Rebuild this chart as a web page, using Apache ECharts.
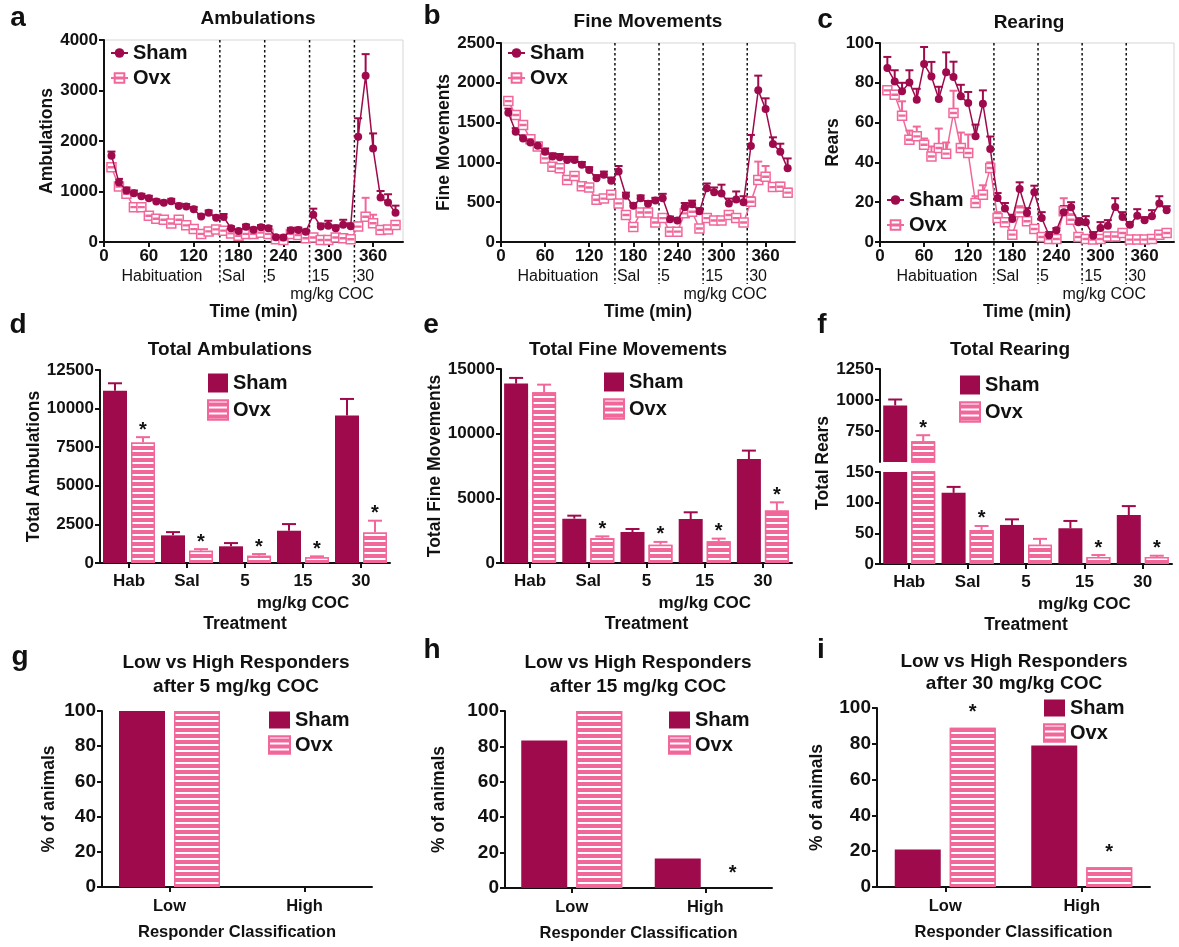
<!DOCTYPE html>
<html><head><meta charset="utf-8">
<script src="https://cdn.jsdelivr.net/npm/echarts@6/dist/echarts.min.js"></script>
<style>html,body{margin:0;padding:0;background:#fff}#c{width:1179px;height:947px}</style>
</head><body><div id="c"></div>
<script>
// ---------------- DATA ----------------
const time = [10,20,30,40,50,60,70,80,90,100,110,120,130,140,150,160,170,180,190,200,210,220,230,240,250,260,270,280,290,300,310,320,330,340,350,360,370,380,390];
const timeTicks = [0,60,120,180,240,300,360];
const doseBounds = [155,215,275,335];
const segLabels = ['Habituation','Sal','5','15','30'];

const ambSham    = [1710,1180,1020,965,905,865,800,775,805,715,705,650,505,580,480, 495,270,220,300,245,290, 270,95,90,235,240,205, 540,305,320,270,340,310, 2085,3290,1850,880,780,580];
const ambShamErr = [80,70,60,55,50,50,45,45,50,45,45,45,40,45,45, 60,40,35,45,40,45, 45,25,25,45,45,40, 120,60,100,60,100,60, 365,430,300,130,165,140];
const ambOvx     = [1480,1100,955,690,690,520,460,440,365,440,330,255,160,210,250, 225,170,125,160,160,185, 160,55,40,160,140,75, 90,40,40,90,75,55, 305,500,370,240,250,335];
const ambOvxErr  = [60,50,50,45,45,40,35,35,35,40,35,30,25,30,30, 30,25,25,25,25,25, 25,15,15,25,25,20, 20,15,15,20,20,15, 80,375,170,60,60,60];

const fineSham    = [1625,1385,1300,1250,1210,1135,1075,1065,1030,1030,970,905,800,845,770, 885,580,455,550,480,520, 550,285,270,435,475,385, 675,625,610,485,535,500, 1205,1905,1670,1230,1135,925];
const fineShamErr = [50,45,40,40,40,40,40,40,40,40,35,35,40,40,40, 70,40,35,35,35,35, 55,35,30,55,45,40, 60,60,110,60,100,75, 140,185,135,85,100,125];
const fineOvx     = [1770,1595,1470,1290,1200,1050,945,925,780,830,700,685,530,545,595, 485,340,190,370,370,245, 300,130,130,360,380,170, 300,270,270,340,300,245, 505,780,820,690,695,620];
const fineOvxErr  = [40,40,40,35,35,35,30,30,35,35,30,30,30,30,30, 35,30,30,30,30,30, 30,20,20,35,35,30, 30,25,25,40,30,30, 60,230,135,50,50,50];

const rearSham    = [87.4,80.7,75.7,80.2,71.5,89.4,83.2,71.9,85.3,82.9,73.2,69.8,53.1,69.5,46.7, 22.1,16.8,11.6,26.6,14.6,25.0, 12.1,3.4,5.9,14.9,17.4,9.9, 9.9,3.2,7.0,8.2,17.6,12.6, 8.7,13.2,10.9,12.9,19.3,15.9];
const rearShamErr = [5.6,5.6,4.3,6.1,5.5,8.6,7.3,6.1,10,7.7,5.8,5.6,5.9,6.7,6.3, 2.5,2.8,2.1,3.4,2.4,3.3, 2.9,1.6,1.1,3.1,2.6,2.1, 3.1,1.8,3,2.8,4.4,2.4, 1.3,3.3,1.6,3.1,3.7,2.1];
const rearOvx     = [76.2,74.0,63.5,51.4,53.1,48.9,43.0,47.2,44.4,64.8,47.2,44.7,19.6,23.8,37.2, 12.1,9.9,3.7,14.9,10.4,6.5, 2.5,1.5,1.5,15.4,11.2,2.5, 1.5,1.2,1.5,2.8,2.8,4.5, 1.2,1.2,1.2,1.5,3.7,4.5];
const rearOvxErr  = [1.8,2,7.2,4.6,4.9,3.1,5,9.8,5.6,11.2,7.8,9.3,3.4,4.7,2.8, 2.9,2.1,0.3,3.1,1.6,0.5, 0.5,0.5,0.5,6.6,2.8,0.5, 0.5,0.3,0,1.2,1.2,1.5, 0.3,0.3,0.3,0.5,0.3,0.5];

const totCats = ['Hab','Sal','5','15','30'];
const totAmbSham = [11150,1790,1080,2090,9550];
const totAmbShamErr = [490,210,210,430,1075];
const totAmbOvx = [7800,800,470,366,1980];
const totAmbOvxErr = [350,100,110,64,760];
const totAmbSig = [1,1,1,1,1];

const totFineSham = [13870,3430,2400,3400,8040];
const totFineShamErr = [440,230,230,520,650];
const totFineOvx = [13200,1930,1420,1675,4050];
const totFineOvxErr = [590,130,210,210,640];
const totFineSig = [0,1,1,1,1];

const totRearSham = [956,116,63.7,58.3,79.9];
const totRearShamErr = [48,9.7,9.1,11.9,14.5];
const totRearOvx = [668,55.6,31.3,11.3,11.3];
const totRearOvxErr = [48,6.4,9.7,3.3,2.2];
const totRearSig = [1,1,0,1,1];

const respCats = ['Low','High'];
const resp5Sham = [100,0],  resp5Ovx = [100,0],  resp5Sig = [0,0];
const resp15Sham = [83.3,16.7], resp15Ovx = [100,0], resp15Sig = [0,1];
const resp30Sham = [21,79], resp30Ovx = [89,11], resp30Sig = [1,1];

// ---------------- STYLE ----------------
const FONT = '"Liberation Sans", Arial, Helvetica, sans-serif';
const SHAM = '#9E0A4C', OVX = '#F2679A', INK = '#111111';
const OVX_SYM = 'path://M0,0H10V10H0Z M2,4.5H8V5.5H2Z';
const STRIPES = {symbol:'rect', symbolSize:1, color:'#ffffff', dashArrayX:[1,0], dashArrayY:[2,4], rotation:0};
const plainNum = v => String(v);

const grids=[], xAxes=[], yAxes=[], series=[], legends=[], graphics=[];

function merge(a,b){for(const k in b){if(b[k]&&typeof b[k]==='object'&&!Array.isArray(b[k])&&a[k]&&typeof a[k]==='object'&&!Array.isArray(a[k]))merge(a[k],b[k]);else a[k]=b[k];}return a;}
function axisBase(fs){return {axisLine:{show:true,onZero:false,lineStyle:{color:INK,width:2}},axisTick:{show:true,length:5,lineStyle:{color:INK,width:2}},axisLabel:{color:INK,fontFamily:FONT,fontWeight:'bold',fontSize:fs,margin:6},splitLine:{show:false},nameTextStyle:{color:INK,fontFamily:FONT,fontWeight:'bold',fontSize:17.5}};}
function valAxis(fs){return merge(axisBase(fs),{type:'value',axisLabel:{formatter:plainNum}});}
function txt(text,x,y,size,weight,align,rot){return {type:'text',x:x,y:y,rotation:rot||0,silent:true,style:{text:text,fill:INK,font:(weight||'bold')+' '+size+'px '+FONT,align:align||'center',textAlign:align||'center',verticalAlign:'middle',textVerticalAlign:'middle'}};}

function errRender(capW, off, starGap){
  return function(params, api){
    const c=api.value(0), v=api.value(1), e=api.value(2), s=api.value(3);
    const p0=api.coord([c,v]), p1=api.coord([c,v+(e>0?e:0)]);
    const x=p0[0]+off;
    const st={stroke:api.visual('color'),lineWidth:2};
    const ch=[];
    if(e>0){
      ch.push({type:'line',shape:{x1:x,y1:p0[1],x2:x,y2:p1[1]},style:st});
      ch.push({type:'line',shape:{x1:x-capW/2,y1:p1[1],x2:x+capW/2,y2:p1[1]},style:st});
    }
    if(s===1){ch.push({type:'text',x:x,y:p1[1]-starGap,style:{text:'*',fill:INK,font:'bold 20px '+FONT,align:'center',textAlign:'center',verticalAlign:'middle',textVerticalAlign:'middle'}});}
    return {type:'group',children:ch};
  };
}
function segRender(params, api){
  const cs=params.coordSys, ch=[];
  const yBot=cs.y+cs.height;
  doseBounds.forEach((b,i)=>{
    const x=api.coord([b,0])[0];
    ch.push({type:'line',shape:{x1:x,y1:cs.y,x2:x,y2:yBot+42},style:{stroke:INK,lineWidth:1.5,lineDash:[2.5,2.5]}});
    ch.push({type:'text',x:x+2,y:yBot+35,style:{text:segLabels[i+1],fill:INK,font:'16px '+FONT,align:'left',textAlign:'left',verticalAlign:'middle',textVerticalAlign:'middle'}});
  });
  const hx=api.coord([doseBounds[0]/2,0])[0];
  ch.push({type:'text',x:hx,y:yBot+35,style:{text:segLabels[0],fill:INK,font:'16px '+FONT,align:'center',textAlign:'center',verticalAlign:'middle',textVerticalAlign:'middle'}});
  const mx=api.coord([(doseBounds[2]+doseBounds[3])/2,0])[0];
  ch.push({type:'text',x:mx,y:yBot+53,style:{text:'mg/kg COC',fill:INK,font:'16px '+FONT,align:'center',textAlign:'center',verticalAlign:'middle',textVerticalAlign:'middle'}});
  return {type:'group',children:ch};
}
function legendOpt(left,top,names,iw,ih,gap,icon){const o={left:left,top:top,orient:'vertical',padding:0,itemGap:gap,itemWidth:iw,itemHeight:ih,data:names,selectedMode:false,formatter:n=>n.split('_')[0],textStyle:{fontFamily:FONT,fontWeight:'bold',fontSize:20,color:INK,lineHeight:22}}; if(icon) o.icon=icon; return o;}

// ---------------- TOP PANELS ----------------
function topPanel(k, rect, yMax, yInt, yName, yNameGap, s, se, o, oe, leg){
  const gi=grids.length; grids.push(Object.assign({show:true,borderColor:'#d6d6d6',borderWidth:1},rect));
  const xi=xAxes.length;
  xAxes.push(merge(valAxis(17),{gridIndex:gi,min:0,max:400,name:'Time (min)',nameLocation:'middle',nameGap:61,axisTick:{customValues:timeTicks},axisLabel:{customValues:timeTicks}}));
  const yi=yAxes.length;
  yAxes.push(merge(valAxis(17),{gridIndex:gi,min:0,max:yMax,interval:yInt,name:yName,nameLocation:'middle',nameGap:yNameGap}));
  const ax={xAxisIndex:xi,yAxisIndex:yi};
  series.push(Object.assign({type:'custom',silent:true,z:1,data:[[0,0]],renderItem:segRender},ax));
  series.push(Object.assign({type:'custom',silent:true,z:2,itemStyle:{color:OVX},encode:{x:0,y:1},data:time.map((t,i)=>[t,o[i],oe[i],0]),renderItem:errRender(8,0,0)},ax));
  series.push(Object.assign({type:'custom',silent:true,z:2,itemStyle:{color:SHAM},encode:{x:0,y:1},data:time.map((t,i)=>[t,s[i],se[i],0]),renderItem:errRender(8,0,0)},ax));
  series.push(Object.assign({type:'line',name:'Ovx_'+k,z:3,data:time.map((t,i)=>[t,o[i]]),symbol:OVX_SYM,symbolSize:9,symbolKeepAspect:true,color:OVX,lineStyle:{color:OVX,width:1.5},itemStyle:{color:'#ffffff',borderColor:OVX,borderWidth:1.5}},ax));
  series.push(Object.assign({type:'line',name:'Sham_'+k,z:4,data:time.map((t,i)=>[t,s[i]]),symbol:'circle',symbolSize:8,color:SHAM,lineStyle:{color:SHAM,width:1.5},itemStyle:{color:SHAM}},ax));
  legends.push(legendOpt(leg[0],leg[1],['Sham_'+k,'Ovx_'+k],17,12,3));
}
topPanel('a',{left:104,top:40,width:299,height:202},4000,1000,'Ambulations',41,ambSham,ambShamErr,ambOvx,ambOvxErr,[110,42]);
topPanel('b',{left:501,top:43,width:294,height:199},2500,500,'Fine Movements',44,fineSham,fineShamErr,fineOvx,fineOvxErr,[507,42]);
topPanel('c',{left:880,top:43,width:294,height:199},100,20,'Rears',36,rearSham,rearShamErr,rearOvx,rearOvxErr,[886,189]);

// ---------------- BAR PANELS ----------------
const ovxBarStyle = {color:OVX,borderColor:OVX,borderWidth:1.5,decal:STRIPES};
const barItems = vals => vals.map(v => (v===0 ? {value:0,itemStyle:{borderWidth:0}} : v));
function barSeries(k, ax, s, o, bw, gapPct){
  series.push(Object.assign({type:'bar',name:'Sham_'+k,data:s,barWidth:bw,barGap:gapPct,itemStyle:{color:SHAM},z:2},ax));
  series.push(Object.assign({type:'bar',name:'Ovx_'+k,data:barItems(o),barWidth:bw,itemStyle:ovxBarStyle,z:2},ax));
}
function errSeries(ax, vals, errs, sig, off, cap, starGap, color, keep){
  const d=[]; vals.forEach((v,i)=>{ if(!keep || keep(v)) d.push([i,v,errs?errs[i]:0,sig?sig[i]:0]); });
  series.push(Object.assign({type:'custom',silent:true,z:3,itemStyle:{color:color},encode:{x:0,y:1},data:d,renderItem:errRender(cap,off,starGap)},ax));
}
const catLabelFmt = v => v==='15' ? '15\nmg/kg COC' : v;
function catAxis(fs, cats, gi, name, gap){return merge(axisBase(fs),{type:'category',gridIndex:gi,data:cats,name:name,nameLocation:'middle',nameGap:gap,axisTick:{alignWithLabel:true},axisLabel:{interval:0,lineHeight:22,margin:7}});}

function totPanel(k, rect, yMax, yInt, yName, yNameGap, s, se, o, oe, sig, leg){
  const gi=grids.length; grids.push(rect);
  const xi=xAxes.length;
  xAxes.push(merge(catAxis(17,totCats,gi,'Treatment',46),{axisLabel:{formatter:catLabelFmt}}));
  const yi=yAxes.length;
  yAxes.push(merge(valAxis(17),{gridIndex:gi,min:0,max:yMax,interval:yInt,name:yName,nameLocation:'middle',nameGap:yNameGap}));
  const ax={xAxisIndex:xi,yAxisIndex:yi};
  const bw=24, gp=4, off=(bw+gp)/2;
  barSeries(k,ax,s,o,bw,(gp/bw*100)+'%');
  errSeries(ax,s,se,null,-off,14,0,SHAM);
  errSeries(ax,o,oe,sig,off,14,7,OVX);
  legends.push(legendOpt(leg[0],leg[1],['Sham_'+k,'Ovx_'+k],20,19,5,'rect'));
}
totPanel('d',{left:100,top:370,width:290,height:193},12500,2500,'Total Ambulations',53,totAmbSham,totAmbShamErr,totAmbOvx,totAmbOvxErr,totAmbSig,[207,372]);
totPanel('e',{left:501,top:369,width:291,height:194},15000,5000,'Total Fine Movements',51,totFineSham,totFineShamErr,totFineOvx,totFineOvxErr,totFineSig,[603,371]);

// panel f : broken axis (two grids)
(function(){
  const BREAK_LO=150, BREAK_HI=500;
  const bw=24, gp=4, off=(bw+gp)/2, gapPct=(gp/bw*100)+'%';
  // upper segment
  let gi=grids.length; grids.push({left:880,top:369,width:292,height:93});
  let xi=xAxes.length; xAxes.push({type:'category',gridIndex:gi,data:totCats,show:false});
  let yi=yAxes.length; yAxes.push(merge(valAxis(17),{gridIndex:gi,min:BREAK_HI,max:1250,interval:250,axisLabel:{customValues:[750,1000,1250]},axisTick:{customValues:[750,1000,1250]}}));
  let ax={xAxisIndex:xi,yAxisIndex:yi};
  series.push(Object.assign({type:'bar',name:'Sham_f',data:totRearSham.map(v=>v>=BREAK_HI?v:'-'),barWidth:bw,barGap:gapPct,itemStyle:{color:SHAM}},ax));
  series.push(Object.assign({type:'bar',name:'Ovx_f',data:totRearOvx.map(v=>v>=BREAK_HI?v:'-'),barWidth:bw,itemStyle:ovxBarStyle},ax));
  errSeries(ax,totRearSham,totRearShamErr,null,-off,14,0,SHAM,v=>v>=BREAK_HI);
  errSeries(ax,totRearOvx,totRearOvxErr,totRearSig,off,14,7,OVX,v=>v>=BREAK_HI);
  // lower segment
  gi=grids.length; grids.push({left:880,top:472,width:292,height:92});
  xi=xAxes.length; xAxes.push(merge(catAxis(17,totCats,gi,'Treatment',46),{axisLabel:{formatter:catLabelFmt}}));
  yi=yAxes.length; yAxes.push(merge(valAxis(17),{gridIndex:gi,min:0,max:BREAK_LO,interval:50}));
  ax={xAxisIndex:xi,yAxisIndex:yi};
  series.push(Object.assign({type:'bar',name:'Sham_f2',data:totRearSham,barWidth:bw,barGap:gapPct,itemStyle:{color:SHAM}},ax));
  series.push(Object.assign({type:'bar',name:'Ovx_f2',data:totRearOvx,barWidth:bw,itemStyle:ovxBarStyle},ax));
  errSeries(ax,totRearSham,totRearShamErr,null,-off,14,0,SHAM,v=>v<=BREAK_LO);
  errSeries(ax,totRearOvx,totRearOvxErr,totRearSig,off,14,7,OVX,v=>v<=BREAK_LO);
  legends.push(legendOpt(959,374,['Sham_f','Ovx_f'],20,19,5,'rect'));
  graphics.push(txt('Total Rears',823,463,17.5,'bold','center',Math.PI/2));
})();

function respPanel(k, rect, s, o, sig, yNameGap, leg){
  const gi=grids.length; grids.push(rect);
  const xi=xAxes.length;
  xAxes.push(merge(catAxis(16.5,respCats,gi,'Responder Classification',37),{axisLabel:{margin:8},nameTextStyle:{fontSize:16.5}}));
  const yi=yAxes.length;
  yAxes.push(merge(valAxis(19),{gridIndex:gi,min:0,max:100,interval:20,name:'% of animals',nameLocation:'middle',nameGap:yNameGap}));
  const ax={xAxisIndex:xi,yAxisIndex:yi};
  const bw=46, gp=9, off=(bw+gp)/2;
  barSeries(k,ax,s,o,bw,(gp/bw*100)+'%');
  errSeries(ax,o,null,sig,off,0,15,OVX);
  legends.push(legendOpt(leg[0],leg[1],['Sham_'+k,'Ovx_'+k],21,17,3,'rect'));
}
respPanel('g',{left:102,top:711,width:270,height:176},resp5Sham,resp5Ovx,resp5Sig,44,[268,709]);
respPanel('h',{left:505,top:711,width:267,height:177},resp15Sham,resp15Ovx,resp15Sig,57,[668,709]);
respPanel('i',{left:877,top:708,width:273,height:179},resp30Sham,resp30Ovx,resp30Sig,51,[1043,697]);

// ---------------- TEXT: letters & titles ----------------
[['a',18,18],['b',432,16],['c',825,20],['d',18,325],['e',431,325],['f',822,325],['g',20,657],['h',432,650],['i',821,650]]
  .forEach(l=>graphics.push(txt(l[0],l[1],l[2],28,'bold','center')));
[['Ambulations',258,19],['Fine Movements',648,22],['Rearing',1029,23],
 ['Total Ambulations',230,350],['Total Fine Movements',628,350],['Total Rearing',1010,350],
 ['Low vs High Responders',236,663],['after 5 mg/kg COC',236,687],
 ['Low vs High Responders',638,663],['after 15 mg/kg COC',638,687],
 ['Low vs High Responders',1014,662],['after 30 mg/kg COC',1014,684]]
  .forEach(t=>graphics.push(txt(t[0],t[1],t[2],19,'bold','center')));

const chart = echarts.init(document.getElementById('c'), null, {renderer:'canvas'});
chart.setOption({
  animation:false,
  backgroundColor:'#ffffff',
  textStyle:{fontFamily:FONT},
  grid:grids, xAxis:xAxes, yAxis:yAxes, series:series, legend:legends,
  graphic:{elements:graphics}
});
</script></body></html>
